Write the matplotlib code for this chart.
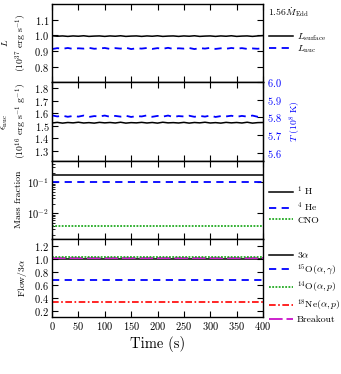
import matplotlib
matplotlib.use("Agg")
import matplotlib.pyplot as plt
import numpy as np

plt.rcParams['font.family'] = ['cmr10', 'DejaVu Serif']
plt.rcParams['mathtext.fontset'] = 'cm'
plt.rcParams['axes.formatter.use_mathtext'] = True
plt.rcParams['axes.unicode_minus'] = False

# ---- data ----
time = [0, 10, 20, 30, 40, 50, 60, 70, 80, 90, 100, 110, 120, 130, 140, 150, 160, 170, 180, 190, 200,
        210, 220, 230, 240, 250, 260, 270, 280, 290, 300, 310, 320, 330, 340, 350, 360, 370, 380, 390, 400]
L_surface = [0.997, 0.994, 0.996, 0.993, 0.996, 0.994, 0.997, 0.993, 0.995, 0.996, 0.993, 0.996, 0.994,
             0.997, 0.993, 0.995, 0.996, 0.993, 0.996, 0.994, 0.997, 0.993, 0.995, 0.996, 0.993, 0.996,
             0.994, 0.997, 0.993, 0.995, 0.996, 0.993, 0.996, 0.994, 0.997, 0.993, 0.995, 0.996, 0.993,
             0.996, 0.998]
L_nuc = [0.912, 0.918, 0.914, 0.919, 0.913, 0.917, 0.915, 0.920, 0.914, 0.916, 0.919, 0.913, 0.918,
         0.915, 0.921, 0.912, 0.917, 0.915, 0.919, 0.913, 0.918, 0.914, 0.920, 0.913, 0.917, 0.915,
         0.919, 0.912, 0.918, 0.915, 0.920, 0.913, 0.917, 0.914, 0.919, 0.915, 0.918, 0.913, 0.916,
         0.914, 0.918]
eps_nuc = [1.522, 1.527, 1.521, 1.526, 1.523, 1.528, 1.522, 1.525, 1.521, 1.527, 1.523, 1.526, 1.522,
           1.528, 1.521, 1.525, 1.523, 1.527, 1.522, 1.526, 1.521, 1.528, 1.523, 1.525, 1.522, 1.527,
           1.521, 1.526, 1.523, 1.528, 1.522, 1.525, 1.521, 1.527, 1.523, 1.526, 1.522, 1.528, 1.521,
           1.525, 1.526]
T8 = [5.812, 5.806, 5.810, 5.804, 5.809, 5.805, 5.811, 5.803, 5.808, 5.806, 5.811, 5.804, 5.809,
      5.805, 5.810, 5.803, 5.808, 5.806, 5.812, 5.804, 5.809, 5.805, 5.811, 5.803, 5.808, 5.806,
      5.810, 5.804, 5.809, 5.805, 5.811, 5.803, 5.808, 5.806, 5.810, 5.804, 5.809, 5.805, 5.811,
      5.804, 5.812]
X_H = [0.17] * len(time)
X_He = [0.099] * len(time)
X_CNO = [0.0039] * len(time)
flow_3a = [1.0] * len(time)
flow_15O = [0.68] * len(time)
flow_14O = [1.03] * len(time)
flow_18Ne = [0.336] * len(time)
flow_breakout = [1.024] * len(time)

# ---- figure ----
W, H = 341, 374
fig = plt.figure(figsize=(W / 100, H / 100), dpi=100)

left = 52 / W
width = (263 - 52) / W
ph = 78.25 / H
b0 = (H - 317) / H
axes = [fig.add_axes([left, b0 + (3 - i) * ph, width, ph]) for i in range(4)]

fs = 7.5
lfs = 7
for ax in axes:
    ax.set_xlim(0, 400)
    ax.set_xticks(np.arange(0, 401, 50))
    ax.tick_params(direction='in', top=True, right=True, length=4, width=0.8, labelsize=fs, pad=2)
    ax.tick_params(which='minor', direction='in', length=2, width=0.6)
    for s in ax.spines.values():
        s.set_linewidth(1.0)
    if ax is not axes[-1]:
        ax.tick_params(labelbottom=False)

leg_kw = dict(frameon=False, fontsize=lfs, handlelength=2.5, handletextpad=0.4,
              borderaxespad=0.2, borderpad=0.4)

# Panel 1
ax = axes[0]
ax.plot(time, L_surface, color='black', lw=1.1, label=r'$L_{\rm surface}$')
ax.plot(time, L_nuc, color='blue', lw=1.3, ls=(0, (4, 3)), label=r'$L_{\rm nuc}$')
ax.set_ylim(0.7, 1.2)
ax.set_yticks([0.8, 0.9, 1.0, 1.1])
ax.set_ylabel('$L$\n$(10^{37}\\ {\\rm erg\\ s^{-1}})$', fontsize=lfs, labelpad=4, linespacing=1.3)
ax.legend(loc='center left', bbox_to_anchor=(1.0, 0.5), labelspacing=0.05, **leg_kw)
fig.text(268 / W, 1 - 12 / H, r'$1.56\dot{M}_{\rm Edd}$', fontsize=lfs, va='center', ha='left')

# Panel 2
ax = axes[1]
ax.plot(time, eps_nuc, color='black', lw=1.1)
ax.set_ylim(1.22, 1.85)
ax.set_yticks([1.3, 1.4, 1.5, 1.6, 1.7, 1.8])
ax.set_ylabel('$\\epsilon_{\\rm nuc}$\n$(10^{16}\\ {\\rm erg\\ s^{-1}\\ g^{-1}})$', fontsize=lfs,
              labelpad=4, linespacing=1.3)
ax.tick_params(right=False)
axT = ax.twinx()
axT.plot(time, T8, color='blue', lw=1.3, ls=(0, (4, 3)))
axT.set_ylim(5.556, 6.0)
axT.set_yticks([5.6, 5.7, 5.8, 5.9, 6.0])
axT.tick_params(direction='in', length=4, width=0.8, labelsize=fs, labelcolor='blue', pad=3)
axT.set_ylabel('$T\\ (10^8\\ {\\rm K})$', color='blue', fontsize=lfs, labelpad=4)
axT.set_xlim(0, 400)

# Panel 3
ax = axes[2]
ax.plot(time, X_H, color='black', lw=1.1, label=r'$^1\ {\rm H}$')
ax.plot(time, X_He, color='blue', lw=1.3, ls=(0, (4, 3)), label=r'$^4\ {\rm He}$')
ax.plot(time, X_CNO, color='#22aa22', lw=1.3, ls=(0, (1, 0.8)), label='CNO')
ax.set_yscale('log')
ax.set_ylim(0.0015, 0.5)
ax.set_ylabel('Mass fraction', fontsize=lfs, labelpad=3)
ax.legend(loc='center left', bbox_to_anchor=(1.0, 0.435), labelspacing=0.2, **leg_kw)

# Panel 4
ax = axes[3]
ax.plot(time, flow_3a, color='black', lw=1.1, label=r'$3\alpha$')
ax.plot(time, flow_15O, color='blue', lw=1.3, ls=(0, (4, 3)), label=r'$^{15}{\rm O}(\alpha,\gamma)$')
ax.plot(time, flow_breakout, color='#cc22cc', lw=1.4, ls=(0, (7, 2)), label='Breakout')
ax.plot(time, flow_14O, color='#22aa22', lw=1.3, ls=(0, (1, 0.8)), label=r'$^{14}{\rm O}(\alpha,p)$')
ax.plot(time, flow_18Ne, color='red', lw=1.2, ls=(0, (4, 1.5, 1, 1.5)), label=r'$^{18}{\rm Ne}(\alpha,p)$')
ax.set_ylim(0.1, 1.32)
ax.set_yticks([0.2, 0.4, 0.6, 0.8, 1.0, 1.2])
ax.set_ylabel(r'Flow/3$\alpha$', fontsize=lfs, labelpad=4)
ax.set_xlabel('Time (s)', fontsize=10.5, labelpad=3)
handles, labels = ax.get_legend_handles_labels()
order = [0, 1, 3, 4, 2]
ax.legend([handles[i] for i in order], [labels[i] for i in order], loc='center left',
          bbox_to_anchor=(1.0, 0.38), labelspacing=0.25, **leg_kw)

fig.savefig('out.png', dpi=100)
